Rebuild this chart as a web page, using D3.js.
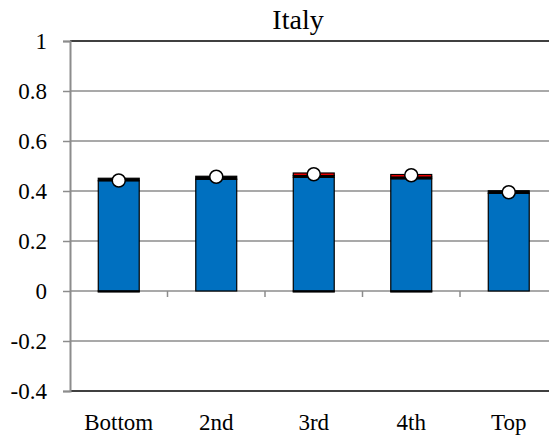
<!DOCTYPE html>
<html>
<head>
<meta charset="utf-8">
<script src="https://cdn.jsdelivr.net/npm/d3@7"></script>
<style>
  body { margin: 0; background: #fff; }
  svg { display: block; }
  svg text { font-family: "Liberation Serif", "Times New Roman", Times, "DejaVu Serif", serif !important; }
</style>
</head>
<body>
<div id="chart"></div>
<script>
// chart data
var categories = ["Bottom", "2nd", "3rd", "4th", "Top"];
var blueVals   = [0.441, 0.447, 0.455, 0.449, 0.391];
var blackVals  = [0.010, 0.012, 0.007, 0.007, 0.010];
var redVals    = [0.000, 0.000, 0.010, 0.010, 0.000];
var negVals    = [-0.004, 0.000, -0.004, -0.004, 0.000];
var totalVals  = [0.442, 0.457, 0.467, 0.463, 0.395];
var yTicks     = [-0.4, -0.2, 0, 0.2, 0.4, 0.6, 0.8, 1];
var chartTitle = "Italy";

(function () {
    var width = 549, height = 435;
    var mLeft = 70, mRight = 557.5, mTop = 41, mBottom = 391;

    var rows = categories.map(function (c, i) {
        return { cat: c, blue: blueVals[i], black: blackVals[i], red: redVals[i], neg: negVals[i] };
    });
    var keys = ["blue", "black", "red", "neg"];
    var colors = { blue: "#0070c0", black: "#000000", red: "#ff0000", neg: "#000000" };

    var series = d3.stack().keys(keys).offset(d3.stackOffsetDiverging)(rows);

    var x = d3.scaleBand().domain(categories).range([mLeft, mRight])
        .paddingInner(0.58).paddingOuter(0.29);
    var y = d3.scaleLinear().domain([-0.4, 1]).range([mBottom, mTop]);

    var svg = d3.select("#chart").append("svg")
        .attr("width", width).attr("height", height);

    // gridlines
    svg.append("g").selectAll("line").data(yTicks.filter(function (t) { return t > -0.4 && t < 1; }))
        .join("line")
        .attr("x1", mLeft).attr("x2", mRight)
        .attr("y1", function (d) { return y(d); }).attr("y2", function (d) { return y(d); })
        .attr("stroke", "#8c8c8c").attr("stroke-width", 1.5);

    // plot border top/bottom
    svg.append("line").attr("x1", mLeft).attr("x2", mRight).attr("y1", y(1)).attr("y2", y(1))
        .attr("stroke", "#000").attr("stroke-width", 1.5);
    svg.append("line").attr("x1", mLeft).attr("x2", mRight).attr("y1", y(-0.4)).attr("y2", y(-0.4))
        .attr("stroke", "#000").attr("stroke-width", 1.5);

    // y axis
    var yAxis = d3.axisLeft(y).tickValues(yTicks).tickSize(7).tickPadding(16)
        .tickFormat(function (d) { return String(+d.toFixed(1)); });
    var gy = svg.append("g").attr("transform", "translate(" + mLeft + ",0)").call(yAxis);
    gy.attr("font-family", null).attr("font-size", null);
    gy.select(".domain").attr("stroke", "#8c8c8c").attr("stroke-width", 2);
    gy.selectAll(".tick line").attr("stroke", "#8c8c8c").attr("stroke-width", 1.5);
    gy.selectAll(".tick text").attr("fill", "#000").attr("font-size", 23).attr("dy", "0.34em");

    // category ticks along zero line
    var bounds = d3.range(1, categories.length).map(function (i) {
        return x(categories[i]) - x.step() * x.paddingInner() / 2;
    });
    svg.append("g").selectAll("line").data(bounds).join("line")
        .attr("x1", function (d) { return d; }).attr("x2", function (d) { return d; })
        .attr("y1", y(0)).attr("y2", y(0) + 6)
        .attr("stroke", "#8c8c8c").attr("stroke-width", 1.5);

    // stacked bars
    svg.append("g").selectAll("g").data(series).join("g")
        .attr("fill", function (s) { return colors[s.key]; })
        .selectAll("rect").data(function (s) { return s.filter(function (d) { return d[1] !== d[0]; }); })
        .join("rect")
        .attr("x", function (d) { return x(d.data.cat); })
        .attr("width", x.bandwidth())
        .attr("y", function (d) { return y(Math.max(d[0], d[1])); })
        .attr("height", function (d) { return Math.abs(y(d[0]) - y(d[1])); })
        .attr("stroke", "#000").attr("stroke-width", 1.2);

    // total markers
    svg.append("g").selectAll("circle").data(totalVals).join("circle")
        .attr("cx", function (d, i) { return x(categories[i]) + x.bandwidth() / 2; })
        .attr("cy", function (d) { return y(d); })
        .attr("r", 6.5)
        .attr("fill", "#fff").attr("stroke", "#000").attr("stroke-width", 1.5);

    // category labels
    svg.append("g").selectAll("text").data(categories).join("text")
        .attr("x", function (d) { return x(d) + x.bandwidth() / 2; })
        .attr("y", 430)
        .attr("text-anchor", "middle")
        .attr("font-size", 23)
        .text(function (d) { return d; });

    // title
    svg.append("text").attr("x", 298).attr("y", 29)
        .attr("text-anchor", "middle").attr("font-size", 28)
        .text(chartTitle);
})();
</script>
</body>
</html>
